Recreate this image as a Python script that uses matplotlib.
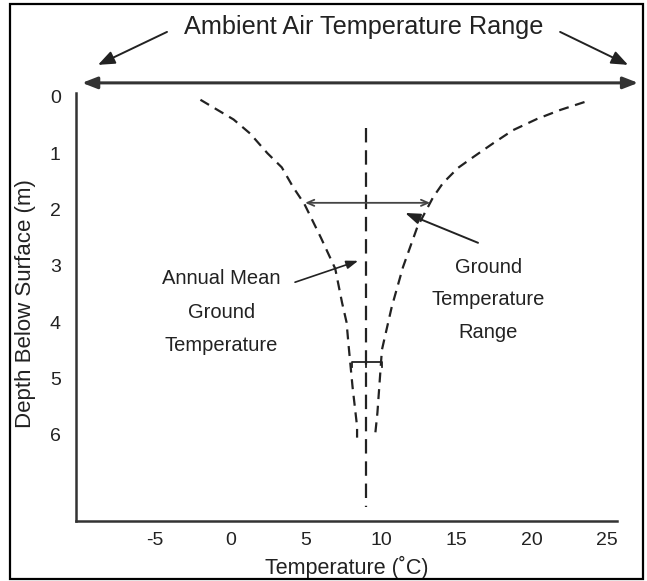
import matplotlib.pyplot as plt
from matplotlib.patches import Rectangle

# depth (m) / temperature (C)
left_depth = [0.05, 0.4, 0.65, 1.0, 1.25, 1.6, 1.9, 2.5, 3.05, 3.65, 4.0, 4.45, 5.15, 5.85, 6.05]
left_temp = [-2.0, 0.2, 1.3, 2.45, 3.4, 4.15, 4.9, 6.0, 6.95, 7.4, 7.7, 7.85, 8.1, 8.4, 8.4]
right_depth = [0.09, 0.23, 0.39, 0.59, 0.82, 1.07, 1.26, 1.53, 1.78, 2.31, 3.02, 3.73, 4.49, 5.61, 6.0]
right_temp = [23.5, 21.9, 20.35, 18.75, 17.45, 16.1, 15.1, 14.1, 13.45, 12.4, 11.45, 10.7, 10.05, 9.75, 9.6]
mean_temp = 9.0
mean_depth = [0.55, 7.28]
bracket_depth = 4.71
bracket_temp = [8.07, 10.06]
range_depth = 1.88
range_temp = [4.95, 13.25]
air_range = [-9.86, 27.06]

x_ticks = [-5, 0, 5, 10, 15, 20, 25]
y_ticks = [0, 1, 2, 3, 4, 5, 6]

plt.rcParams['font.family'] = ['Liberation Sans', 'DejaVu Sans']
plt.rcParams['axes.unicode_minus'] = False
ink = '#222222'

fig = plt.figure(figsize=(6.47, 5.81), dpi=100)
ax = fig.add_axes([0.1175, 0.1033, 0.8362, 0.7367])
ax.set_xlim(-10.26, 25.66)
ax.set_ylim(7.53, -0.071)

# ground temperature envelope
ax.plot(left_temp, left_depth, color=ink, lw=1.6, dashes=(4.5, 3.0))
ax.plot(right_temp, right_depth, color=ink, lw=1.6, dashes=(4.5, 3.0))
ax.plot([mean_temp, mean_temp], mean_depth, color=ink, lw=1.6, dashes=(6.5, 3.5))

# small bracket around 5 m
tick = 0.09
ax.plot([bracket_temp[0], bracket_temp[0], bracket_temp[1], bracket_temp[1]],
        [bracket_depth + tick, bracket_depth, bracket_depth, bracket_depth + tick],
        color=ink, lw=1.3)
ax.plot([mean_temp, mean_temp], [bracket_depth, bracket_depth + tick], color=ink, lw=1.3)

# ground temperature range arrow
ax.annotate('', xy=(range_temp[0], range_depth), xytext=(range_temp[1], range_depth),
            arrowprops=dict(arrowstyle='<->,head_length=0.5,head_width=0.22', color='#444444', lw=1.3,
                            shrinkA=0, shrinkB=0))

# ambient air range arrow
ax.annotate('', xy=(air_range[0], -0.25), xytext=(air_range[1], -0.25), annotation_clip=False,
            arrowprops=dict(arrowstyle='<|-|>,head_length=0.9,head_width=0.35', color='#333333', lw=2.2,
                            shrinkA=0, shrinkB=0))
ax.text(8.86, -1.25, 'Ambient Air Temperature Range', fontsize=18.2, color=ink,
        ha='center', va='center', clip_on=False)
ax.annotate('', xy=(-8.8, -0.57), xytext=(-4.22, -1.155), annotation_clip=False,
            arrowprops=dict(arrowstyle='-|>,head_length=1.0,head_width=0.4', color=ink, lw=1.4,
                            shrinkA=0, shrinkB=0))
ax.annotate('', xy=(26.39, -0.57), xytext=(21.88, -1.155), annotation_clip=False,
            arrowprops=dict(arrowstyle='-|>,head_length=1.0,head_width=0.4', color=ink, lw=1.4,
                            shrinkA=0, shrinkB=0))

# labels with pointers
ax.text(-0.63, 3.82, 'Annual Mean\nGround\nTemperature', fontsize=14.5, color=ink,
        ha='center', va='center', linespacing=1.97)
ax.annotate('', xy=(8.47, 2.91), xytext=(4.28, 3.29),
            arrowprops=dict(arrowstyle='-|>,head_length=0.7,head_width=0.25', color=ink, lw=1.2,
                            shrinkA=0, shrinkB=0))
ax.text(17.1, 3.6, 'Ground\nTemperature\nRange', fontsize=14.5, color=ink,
        ha='center', va='center', linespacing=1.9)
ax.annotate('', xy=(11.59, 2.06), xytext=(16.43, 2.59),
            arrowprops=dict(arrowstyle='-|>,head_length=0.9,head_width=0.32', color=ink, lw=1.4,
                            shrinkA=0, shrinkB=0))

# axes styling
for side in ['top', 'right']:
    ax.spines[side].set_visible(False)
for side in ['left', 'bottom']:
    ax.spines[side].set_linewidth(1.8)
    ax.spines[side].set_color('#333333')
ax.set_xticks(x_ticks)
ax.set_yticks(y_ticks)
ax.tick_params(axis='x', length=0, pad=8, labelsize=14, labelcolor=ink)
ax.tick_params(axis='y', length=0, pad=11, labelsize=14, labelcolor=ink)
ax.set_xlabel('Temperature (˚C)', fontsize=15.5, color=ink)
ax.set_ylabel('Depth Below Surface (m)', fontsize=16, color=ink)
ax.xaxis.set_label_coords(0.5, -0.082)
ax.yaxis.set_label_coords(-0.074, 0.507)

# outer frame
fig.patches.append(Rectangle((0.0155, 0.0034), 0.9783, 0.9897, transform=fig.transFigure,
                             fill=False, edgecolor='black', lw=1.6))

fig.savefig('out.png', dpi=100)
